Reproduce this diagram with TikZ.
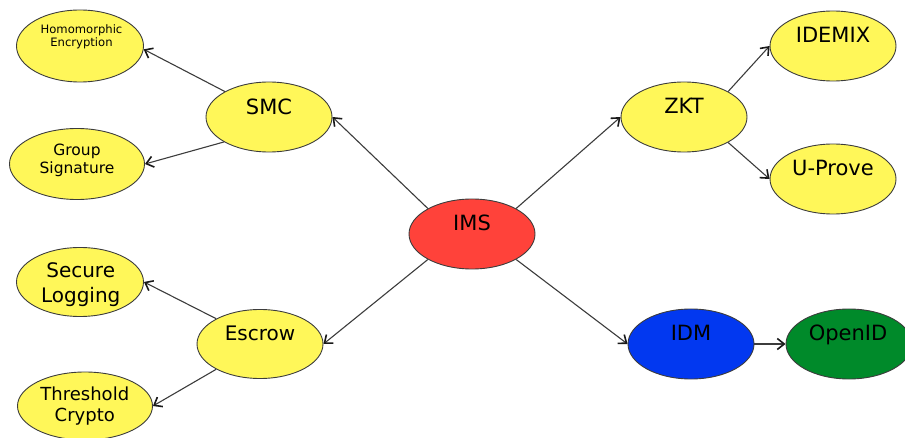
\documentclass[tikz,border=0pt]{standalone}
\usepackage{fontspec}
\setmainfont{DejaVu Sans}
\usetikzlibrary{arrows.meta,shapes.geometric}
\definecolor{bubyellow}{RGB}{255,247,89}
\definecolor{bubred}{RGB}{255,66,58}
\definecolor{bubblue}{RGB}{2,56,240}
\definecolor{bubgreen}{RGB}{0,138,42}
\definecolor{edgegray}{RGB}{60,60,60}
\definecolor{tipdark}{RGB}{25,25,25}
\tikzset{
  bubble/.style={ellipse, draw=edgegray, line width=0.9pt, inner sep=0pt,
    minimum width=126pt, minimum height=70pt, fill=bubyellow},
  txt/.style={inner sep=0pt, anchor=base, align=center, text=black},
  big/.style={font=\fontsize{21}{25}\selectfont},
  link/.style={draw=edgegray, line width=1.1pt,
    -{Straight Barb[length=7pt,width=11pt,line width=1.6pt,color=tipdark]}},
}
\begin{document}
\begin{tikzpicture}[x=1pt,y=-1pt]
\useasboundingbox (0,0) rectangle (905,438);
\clip (0,0) rectangle (905,438);

% bubbles
\node[bubble, fill=bubred] (ims) at (472,234) {};
\node[bubble] (smc) at (269,117) {};
\node[bubble] (zkt) at (684,117) {};
\node[bubble] (idemix) at (833,46) {};
\node[bubble] (uprove) at (833,179) {};
\node[bubble, fill=bubblue] (idm) at (691,344) {};
\node[bubble, fill=bubgreen] (openid) at (849,344) {};
\node[bubble, minimum width=127pt, minimum height=72pt] (homo) at (80,46) {};
\node[bubble, minimum width=135pt, minimum height=71pt] (group) at (77,164) {};
\node[bubble, minimum width=127pt, minimum height=69pt] (secure) at (80,282) {};
\node[bubble, minimum height=69pt] (escrow) at (260,344) {};
\node[bubble, minimum width=135pt, minimum height=68pt] (thresh) at (85,406) {};

% labels (multi-line labels sit on the baseline of their last line)
\node[txt, big] (ims-t) at (472,230.7) {IMS};
\node[txt, big] (smc-t) at (269,114.3) {SMC};
\node[txt, big] (zkt-t) at (684,113.3) {ZKT};
\node[txt, big] (idemix-t) at (833,42.7) {IDEMIX};
\node[txt, big] (uprove-t) at (833,176) {U-Prove};
\node[txt, big] (idm-t) at (691,341) {IDM};
\node[txt, big] (openid-t) at (848,341) {OpenID};
\node[txt, font=\fontsize{20}{24}\selectfont] (escrow-t) at (260,340.7) {Escrow};
\node[txt, font=\fontsize{11.6}{13}\selectfont] (homo-t) at (81.5,46.7) {Homomorphic\\Encryption};
\node[txt, font=\fontsize{15.5}{17.3}\selectfont] (group-t) at (77,173.3) {Group\\Signature};
\node[txt, font=\fontsize{20}{25}\selectfont] (secure-t) at (80.7,302.3) {Secure\\Logging};
\node[txt, font=\fontsize{18}{21.7}\selectfont] (thresh-t) at (84.8,421.7) {Threshold\\Crypto};

% connectors
\draw[link] (ims.150) -- (smc.east);
\draw[link] (ims.210) -- (escrow.east);
\draw[link] (ims.30) -- (zkt.west);
\draw[link] (ims.-30) -- (idm.west);
\draw[link] (smc.150) -- (homo.-3);
\draw[link] (smc.209) -- (group.east);
\draw[link] (zkt.30) -- (idemix.west);
\draw[link] (zkt.-30) -- (uprove.west);
\draw[link] (idm.east) -- (openid.west);
\draw[link] (escrow.150) -- (secure.east);
\draw[link] (escrow.210) -- (thresh.east);
\end{tikzpicture}
\end{document}
